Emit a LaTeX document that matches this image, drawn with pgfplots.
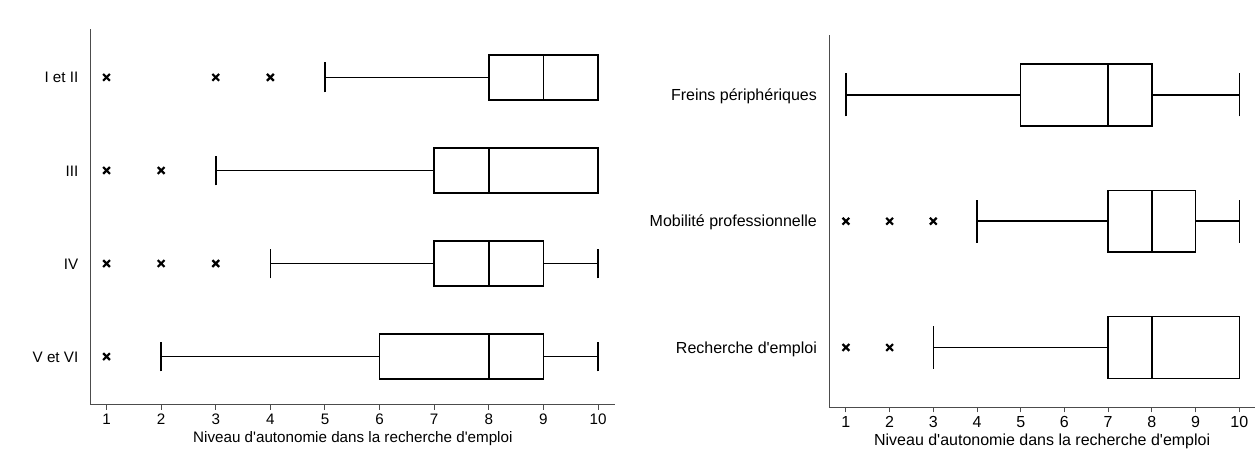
\documentclass[border=0pt]{standalone}
\usepackage{fontspec}
\setmainfont{Liberation Sans}
\usepackage{pgfplots}
\pgfplotsset{compat=1.18}
\usepgfplotslibrary{statistics}

\pgfplotsset{
  autobox/.style={
    scale only axis,
    anchor=south west,
    axis lines=left,
    axis line style={-, line width=0.5pt, gray!60!black},
    boxplot/draw direction=x,
    xmin=0.7, xmax=10.3,
    xtick={1,...,10},
    tick align=outside,
    major x tick style={line width=0.5pt, gray!60!black},
    major tick length=2.5pt,
    major y tick style={draw=none},
    /pgf/number format/assume math mode=true,
    xticklabel style={anchor=north, inner sep=0pt, yshift=-1.8pt},
    yticklabel style={anchor=base east, inner sep=0pt, xshift=-3.5pt, yshift=-2.8pt},
    xlabel={Niveau d\textquotesingle autonomie dans la recherche d\textquotesingle emploi},
    xlabel style={at={(axis description cs:0.5,0)}, anchor=center, inner sep=0pt, yshift=-17pt},
    clip=false,
  },
  bx/.style={draw=black, line width=0.75pt},
  out/.style={only marks, mark=x, mark size=2.4pt, black, mark options={line width=1.1pt}},
}

\begin{document}
\begin{tikzpicture}
\useasboundingbox (0,0) rectangle (630pt,229pt);

% gauche : niveau de formation
\begin{axis}[autobox,
    at={(45.35pt,26.5pt)}, width=262.15pt, height=188pt,
    xmin=0.71, xmax=10.31, ymin=0.48, ymax=4.52,
    ytick={1,2,3,4},
    yticklabels={V et VI, IV, III, I et II},
    font=\fontsize{7.6}{9}\selectfont,
  ]
  \addplot[bx, boxplot prepared={draw position=4, lower whisker=5, lower quartile=8,
    median=9, upper quartile=10, upper whisker=10, box extend=0.484, whisker extend=0.32}] coordinates {};
  \addplot[bx, boxplot prepared={draw position=3, lower whisker=3, lower quartile=7,
    median=8, upper quartile=10, upper whisker=10, box extend=0.484, whisker extend=0.32}] coordinates {};
  \addplot[bx, boxplot prepared={draw position=2, lower whisker=4, lower quartile=7,
    median=8, upper quartile=9, upper whisker=10, box extend=0.484, whisker extend=0.32}] coordinates {};
  \addplot[bx, boxplot prepared={draw position=1, lower whisker=2, lower quartile=6,
    median=8, upper quartile=9, upper whisker=10, box extend=0.484, whisker extend=0.32}] coordinates {};
  \addplot[out] coordinates {(1,4) (3,4) (4,4) (1,3) (2,3) (1,2) (2,2) (3,2) (1,1)};
\end{axis}

% droite : type d'accompagnement
\begin{axis}[autobox,
    at={(414.65pt,25.35pt)}, width=212.85pt, height=186.15pt,
    xmin=0.62, xmax=10.36, ymin=0.526, ymax=3.475,
    ytick={1,2,3},
    yticklabels={Recherche d\textquotesingle emploi, Mobilité professionnelle, Freins périphériques},
    font=\fontsize{8}{9.5}\selectfont,
  ]
  \addplot[bx, boxplot prepared={draw position=3, lower whisker=1, lower quartile=5,
    median=7, upper quartile=8, upper whisker=10, box extend=0.49, whisker extend=0.34}] coordinates {};
  \addplot[bx, boxplot prepared={draw position=2, lower whisker=4, lower quartile=7,
    median=8, upper quartile=9, upper whisker=10, box extend=0.49, whisker extend=0.34}] coordinates {};
  \addplot[bx, boxplot prepared={draw position=1, lower whisker=3, lower quartile=7,
    median=8, upper quartile=10, upper whisker=10, box extend=0.49, whisker extend=0.34}] coordinates {};
  \addplot[out] coordinates {(1,2) (2,2) (3,2) (1,1) (2,1)};
\end{axis}
\end{tikzpicture}
\end{document}
